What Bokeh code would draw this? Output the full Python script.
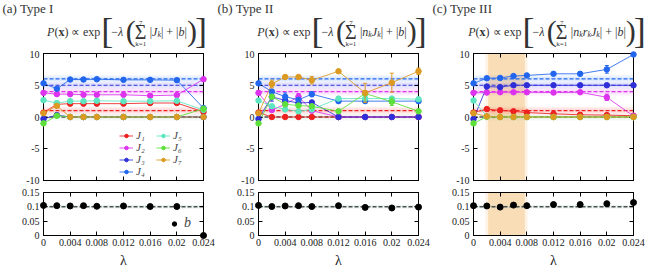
from bokeh.plotting import figure
from bokeh.layouts import column, row
from bokeh.models import (Range1d, LinearAxis, FixedTicker, CustomJSTickFormatter, Span,
                          BoxAnnotation, Label, Legend, LegendItem, ColumnDataSource)
from bokeh.embed import file_html
from bokeh.resources import INLINE

# ---------------- data ----------------
lam = [0.0, 0.002, 0.004, 0.006, 0.008, 0.012, 0.016, 0.020, 0.024]

x_ticks = [0.0, 0.004, 0.008, 0.012, 0.016, 0.020, 0.024]
x_tick_labels = ["0", "0.004", "0.008", "0.012", "0.016", "0.02", "0.024"]
top_y_ticks = [-10, -5, 0, 5, 10]
top_y_labels = ["-10", "-5", "0", "5", "10"]
bot_y_ticks = [0.0, 0.05, 0.1, 0.15]
bot_y_labels = ["0", "0.05", "0.1", "0.15"]
x_title = "\u03bb"

J_names = ["J\u2081", "J\u2082", "J\u2083", "J\u2084", "J\u2085", "J\u2086", "J\u2087"]
J_colors = ["#ee2020", "#dd33ee", "#2f2fd8", "#2266ee", "#5de6bf", "#5ee03a", "#dc9a22"]
J_true = [1, 4, 5, 6, 0, 0, 0]
b_true = 0.1

# Type I
typeI_J1 = [0.7, 2.0, 2.1, 2.1, 2.1, 2.1, 2.2, 2.2, 0.8]
typeI_J2 = [3.8, 3.6, 3.6, 3.5, 3.5, 3.5, 3.35, 3.45, 5.95]
typeI_J3 = [-0.3, 0.3, 0.0, 0.0, 0.0, 0.0, 0.0, 0.0, 0.0]
typeI_J4 = [5.3, 4.45, 5.9, 5.9, 5.95, 5.85, 5.85, 5.8, 1.4]
typeI_J5 = [2.65, 2.2, 2.5, 2.5, 2.55, 2.5, 2.5, 2.55, 1.1]
typeI_J6 = [-1.0, 0.2, 0.0, 0.0, 0.0, 0.0, 0.0, 0.0, 1.3]
typeI_J7 = [0.6, 1.75, 0.0, 0.0, 0.0, 0.0, 0.0, 0.0, 0.0]
typeI_b = [0.105, 0.104, 0.103, 0.104, 0.102, 0.103, 0.101, 0.101, 0.0]

# Type II
typeII_J1 = [0.7, 0.0, 0.0, 0.0, 0.0, 0.0, 0.0, 0.0, 0.0]
typeII_J2 = [3.8, 1.1, 2.0, 3.2, 1.0, 0.0, 0.0, 0.0, 0.0]
typeII_J3 = [-0.3, 3.2, 2.6, 2.2, 2.3, 0.0, 0.0, 0.0, 0.0]
typeII_J4 = [5.3, 4.0, 3.2, 2.7, 3.6, 2.5, 2.5, 2.5, 2.5]
typeII_J5 = [2.6, 1.7, 1.2, 0.9, 1.2, 2.9, 2.9, 2.9, 2.8]
typeII_J6 = [-1.0, 3.2, 2.0, 1.8, 1.7, 0.9, 3.7, 2.4, 0.9]
typeII_J7 = [0.6, 5.2, 6.3, 6.3, 5.8, 7.2, 3.8, 5.4, 7.2]
typeII_J2_err = [0.0, 0.0, 0.0, 0.5, 0.0, 0.0, 0.0, 0.0, 0.0]
typeII_J3_err = [0.0, 0.7, 0.0, 0.0, 0.0, 0.0, 0.0, 0.0, 0.0]
typeII_J4_err = [0.0, 0.0, 0.6, 0.0, 0.4, 0.0, 0.0, 0.0, 0.0]
typeII_J6_err = [0.0, 0.0, 0.0, 0.0, 0.0, 0.0, 0.0, 0.6, 0.0]
typeII_J7_err = [0.0, 0.6, 0.0, 0.0, 0.6, 0.0, 1.5, 1.5, 0.5]
typeII_b = [0.105, 0.101, 0.103, 0.104, 0.101, 0.104, 0.098, 0.096, 0.099]
typeII_b_err = [0.0, 0.0, 0.0, 0.0, 0.0, 0.0, 0.0, 0.0, 0.012]

# Type III
typeIII_J1 = [0.7, 1.25, 1.05, 0.9, 0.7, 0.5, 0.35, 0.3, 0.2]
typeIII_J2 = [3.8, 3.85, 3.9, 3.9, 3.9, 3.85, 3.9, 3.1, 0.15]
typeIII_J3 = [-0.3, 4.8, 4.7, 5.0, 5.0, 5.0, 5.0, 5.0, 5.0]
typeIII_J4 = [5.3, 6.1, 6.15, 6.45, 6.55, 6.8, 6.8, 7.5, 9.85]
typeIII_J5 = [2.6, 0.1, 0.0, 0.0, 0.0, 0.0, 0.0, 0.0, 0.0]
typeIII_J6 = [-1.0, 0.05, 0.0, 0.0, 0.0, 0.0, 0.0, 0.0, 0.0]
typeIII_J7 = [0.6, 0.1, 0.0, 0.0, 0.0, 0.0, 0.0, 0.0, 0.0]
typeIII_J2_err = [0.0, 0.0, 0.0, 0.0, 0.0, 0.0, 0.0, 0.5, 0.0]
typeIII_J4_err = [0.0, 0.0, 0.0, 0.0, 0.0, 0.0, 0.0, 0.6, 0.0]
typeIII_b = [0.104, 0.103, 0.099, 0.106, 0.104, 0.108, 0.108, 0.111, 0.115]
typeIII_opt_range = [0.0022, 0.0077]

panel_titles = ["(a) Type I", "(b) Type II", "(c) Type III"]

FONT = "Liberation Serif"
TXT = "#1a1a1a"
HEAD_TXT = "#333333"

panels = [
    dict(J=[typeI_J1, typeI_J2, typeI_J3, typeI_J4, typeI_J5, typeI_J6, typeI_J7],
         Jerr={}, b=typeI_b, berr=None, band=None,
         inner=[("|", "normal"), ("J", "italic"), ("k", "sub"), ("| + |", "normal"),
                ("b", "italic"), ("|", "normal")]),
    dict(J=[typeII_J1, typeII_J2, typeII_J3, typeII_J4, typeII_J5, typeII_J6, typeII_J7],
         Jerr={1: typeII_J2_err, 2: typeII_J3_err, 3: typeII_J4_err, 5: typeII_J6_err, 6: typeII_J7_err},
         b=typeII_b, berr=typeII_b_err, band=None,
         inner=[("|", "normal"), ("n", "italic"), ("k", "sub"), ("J", "italic"), ("k", "sub"),
                ("| + |", "normal"), ("b", "italic"), ("|", "normal")]),
    dict(J=[typeIII_J1, typeIII_J2, typeIII_J3, typeIII_J4, typeIII_J5, typeIII_J6, typeIII_J7],
         Jerr={1: typeIII_J2_err, 3: typeIII_J4_err},
         b=typeIII_b, berr=None, band=typeIII_opt_range,
         inner=[("|", "normal"), ("n", "italic"), ("k", "sub"), ("r", "italic"), ("k", "sub"),
                ("J", "italic"), ("k", "sub"), ("| + |", "normal"), ("b", "italic"), ("|", "normal")]),
]

CW = {'P': 0.611, '(': 0.333, ')': 0.333, 'x': 0.5, ' ': 0.25, '\u221d': 0.713, 'e': 0.444, 'p': 0.5,
      '[': 0.333, ']': 0.333, '\u2212': 0.564, '\u03bb': 0.55, '\u03a3': 0.6, '|': 0.2, 'J': 0.444,
      'k': 0.444, 'n': 0.5, 'r': 0.389, 'b': 0.5, '+': 0.564, '=': 0.564, '1': 0.5, '7': 0.5}

HEAD_H = 50
FOOT_H = 13


def tw(s, size):
    return sum(CW.get(c, 0.5) for c in s) * size


def lab(p, text, x, y, size, style="normal", align="left", color=HEAD_TXT):
    p.add_layout(Label(x=x, y=y, text=text, text_font=FONT, text_font_size=f"{size}px",
                       text_font_style=style, text_color=color, text_align=align,
                       text_baseline="middle"))


def add_formula(p, inner, center, base):
    M = 12
    toks = [("P", M, "italic", 0, None), ("(", M, "normal", 0, None), ("x", M, "bold", 0, None),
            (")", M, "normal", 0, None), ("gap", 3), ("\u221d", M, "normal", 0, None), ("gap", 3),
            ("exp", M, "normal", 0, None), ("gap", 1), ("[", 36, "normal", 1, 9), ("gap", 1),
            ("\u2212", M, "normal", 0, None), ("\u03bb", M, "italic", 0, None), ("gap", 1),
            ("(", 30, "normal", 1, 8), ("sig",), ("gap", 2)]
    for t, st in inner:
        if st == "sub":
            toks.append((t, 8, "italic", -3, None))
        else:
            toks.append((t, M, st, 0, None))
    toks += [("gap", 0), (")", 30, "normal", 1, 8), ("gap", 0), ("]", 36, "normal", 1, 9)]
    SIG = 20

    def width(t):
        if t[0] == "gap":
            return t[1]
        if t[0] == "sig":
            return tw("\u03a3", SIG) + 2
        return t[4] if t[4] is not None else tw(t[0], t[1])
    total = sum(width(t) for t in toks)
    x = center - total / 2
    for t in toks:
        w = width(t)
        if t[0] == "gap":
            pass
        elif t[0] == "sig":
            lab(p, "\u03a3", x + 1, base, SIG)
            cx = x + 1 + tw("\u03a3", SIG) / 2
            lab(p, "7", cx, base + 9, 7, align="center")
            lab(p, "k=1", cx, base - 12, 7, align="center")
        else:
            lab(p, t[0], x, base + t[3], t[1], t[2])
        x += w


def style_axis(ax, ticks, labels=None):
    ax.ticker = FixedTicker(ticks=ticks)
    ax.major_tick_in = 4
    ax.major_tick_out = 0
    ax.minor_tick_line_color = None
    ax.axis_line_color = "black"
    ax.major_tick_line_color = "black"
    if labels is None:
        ax.formatter = CustomJSTickFormatter(code="return ''")
        ax.major_label_text_font_size = "1px"
        ax.major_label_standoff = 0
    else:
        ax.major_label_overrides = {t: l for t, l in zip(ticks, labels)}
        ax.major_label_text_font = FONT
        ax.major_label_text_font_size = "10px"
        ax.major_label_text_color = TXT
        ax.major_label_standoff = 4


def base_fig(fh, yr, top, bottom, right):
    p = figure(frame_width=160, frame_height=fh, x_range=Range1d(0, 0.024), y_range=Range1d(*yr),
               output_backend="svg", toolbar_location=None, x_axis_location=None, y_axis_location=None,
               min_border_left=43, min_border_right=right, min_border_top=top, min_border_bottom=bottom)
    p.grid.visible = False
    p.outline_line_color = "black"
    p.outline_line_width = 1
    p.background_fill_color = "white"
    p.border_fill_color = "white"
    return p


def text_strip(w, h):
    s = figure(width=w, height=h, x_range=Range1d(0, w), y_range=Range1d(0, h),
               output_backend="svg", toolbar_location=None, x_axis_location=None,
               y_axis_location=None, min_border=0)
    s.grid.visible = False
    s.outline_line_color = None
    return s


def add_opt_band(p, rng):
    l0, l1 = rng
    for pad, a in [(0.0004, 0.18), (0.0, 0.35)]:
        p.add_layout(BoxAnnotation(left=l0 - pad, right=l1 + pad, fill_color="#f2b865",
                                   fill_alpha=a, line_color=None, level="underlay"))


heads, tops, bots, foots = [], [], [], []
for i, pan in enumerate(panels):
    W = 220 if i == 2 else 215
    R = 17 if i == 2 else 12

    # ---------- header (title + formula) ----------
    h = text_strip(W, HEAD_H)
    lab(h, panel_titles[i], 2, HEAD_H - 8, 13)
    add_formula(h, pan["inner"], 43 + 82, HEAD_H - 31)
    heads.append(h)

    # ---------- top panel ----------
    p = base_fig(127, (-10, 10), 3, 6, R)
    for side in ["below", "above"]:
        ax = LinearAxis()
        style_axis(ax, x_ticks, None)
        p.add_layout(ax, side)
    for side, labels in [("left", top_y_labels), ("right", None)]:
        ax = LinearAxis()
        style_axis(ax, top_y_ticks, labels)
        p.add_layout(ax, side)

    if pan["band"] is not None:
        add_opt_band(p, pan["band"])
    band_cols = {1: "#ff3030", 4: "#e040f0", 5: "#5050ff", 6: "#3a7cff", 0: "#9fc8b0"}
    for v in sorted(set(J_true)):
        c = band_cols[v]
        for hw, a in [(0.6, 0.07), (0.35, 0.10)]:
            p.add_layout(BoxAnnotation(bottom=v - hw, top=v + hw, fill_color=c, fill_alpha=a,
                                       line_color=None, level="underlay"))
    for k, v in enumerate(J_true):
        col = "black" if v == 0 else J_colors[k]
        if v == 0 and k != 4:
            continue
        p.add_layout(Span(location=v, dimension="width", line_color=col, line_dash="4 2",
                          line_width=1.2, level="underlay"))

    items = []
    for k in range(7):
        src = ColumnDataSource(dict(x=lam, y=pan["J"][k]))
        lr = p.line("x", "y", source=src, line_color=J_colors[k], line_width=1, line_alpha=0.85)
        if k in pan["Jerr"]:
            e = pan["Jerr"][k]
            xs = [lam[j] for j in range(9) if e[j] > 0]
            y0 = [pan["J"][k][j] - e[j] for j in range(9) if e[j] > 0]
            y1 = [pan["J"][k][j] + e[j] for j in range(9) if e[j] > 0]
            es = ColumnDataSource(dict(x=xs, y0=y0, y1=y1))
            p.segment("x", "y0", "x", "y1", source=es, line_color=J_colors[k], line_width=1, level="overlay")
            p.scatter("x", "y0", source=es, marker="dash", size=4, line_color=J_colors[k], level="overlay")
            p.scatter("x", "y1", source=es, marker="dash", size=4, line_color=J_colors[k], level="overlay")
        sr = p.scatter("x", "y", source=src, marker="circle", size=5.5, fill_color=J_colors[k],
                       line_color=J_colors[k], level="overlay")
        items.append(LegendItem(label=J_names[k], renderers=[lr, sr]))
    if i == 0:
        leg = Legend(items=items, nrows=4, location=(76, 3), background_fill_alpha=0,
                     border_line_alpha=0, padding=0, spacing=0, margin=0, glyph_width=14,
                     glyph_height=9, label_height=9, label_standoff=3, label_text_line_height=1.0,
                     label_text_font=FONT, label_text_font_style="italic", label_text_font_size="11px")
        p.add_layout(leg)
    tops.append(p)

    # ---------- bottom panel ----------
    q = base_fig(43, (0, 0.15), 6, 266 - HEAD_H - 136 - FOOT_H - 6 - 43, R)
    ax = LinearAxis()
    style_axis(ax, x_ticks, x_tick_labels)
    ax.major_label_standoff = 3
    q.add_layout(ax, "below")
    ax = LinearAxis()
    style_axis(ax, x_ticks, None)
    q.add_layout(ax, "above")
    ax = LinearAxis()
    style_axis(ax, bot_y_ticks, bot_y_labels)
    q.add_layout(ax, "left")
    ax = LinearAxis()
    style_axis(ax, bot_y_ticks, None)
    q.add_layout(ax, "right")
    if pan["band"] is not None:
        add_opt_band(q, pan["band"])
    q.add_layout(BoxAnnotation(bottom=b_true - 0.006, top=b_true + 0.006, fill_color="#bcd6d6",
                               fill_alpha=0.3, line_color=None, level="underlay"))
    q.add_layout(Span(location=b_true, dimension="width", line_color="black", line_dash="4 2",
                      line_width=1, level="underlay"))
    bsrc = ColumnDataSource(dict(x=lam, y=pan["b"]))
    if pan["berr"] is not None:
        e = pan["berr"]
        xs = [lam[j] for j in range(9) if e[j] > 0]
        y0 = [pan["b"][j] - e[j] for j in range(9) if e[j] > 0]
        y1 = [pan["b"][j] + e[j] for j in range(9) if e[j] > 0]
        q.segment(xs, y0, xs, y1, line_color="black", line_width=1, level="overlay")
    br = q.scatter("x", "y", source=bsrc, marker="circle", size=6, fill_color="black",
                   line_color="black", level="overlay")
    if i == 0:
        leg = Legend(items=[LegendItem(label="b", renderers=[br])], location=(124, 4),
                     background_fill_alpha=0, border_line_alpha=0, padding=0, spacing=0, margin=0,
                     glyph_width=14, glyph_height=11, label_height=11, label_standoff=3,
                     label_text_font=FONT, label_text_font_style="italic", label_text_font_size="14px")
        q.add_layout(leg)
    bots.append(q)

    # ---------- x-axis title strip ----------
    f = text_strip(W, FOOT_H)
    lab(f, x_title, 43 + 80, FOOT_H / 2, 14, align="center", color=TXT)
    foots.append(f)

layout = column(row(*heads, spacing=0), row(*tops, spacing=0), row(*bots, spacing=0),
                row(*foots, spacing=0), spacing=0)

open("out.html", "w").write(file_html(layout, INLINE))
